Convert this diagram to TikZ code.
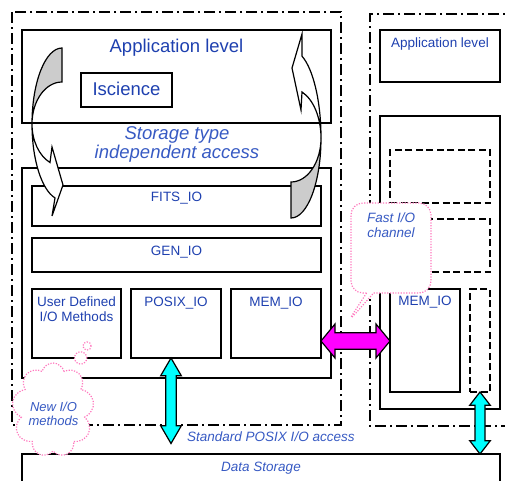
\documentclass[tikz,border=0pt]{standalone}
\usepackage{fontspec}
\setmainfont{Liberation Sans}
\usetikzlibrary{calc,shapes.callouts,shapes.symbols}
\definecolor{txtblue}{RGB}{30,64,175}
\definecolor{itblue}{RGB}{55,90,195}
\definecolor{dotpink}{RGB}{255,120,190}
\definecolor{fatcyan}{RGB}{0,255,255}
\definecolor{fatmag}{RGB}{255,0,255}
\definecolor{backshade}{RGB}{204,204,204}

% #1 from, #2 to, #3 fill, #4 shaft half width, #5 head half width, #6 head length
\newcommand\fatdbl[6]{%
  \draw[fatline, fill=#3] let \p1=(#1), \p2=(#2),
    \n1={veclen(\x2-\x1,\y2-\y1)}, \n2={atan2(\y2-\y1,\x2-\x1)} in
    [shift={(\p1)}, rotate=\n2]
    (0pt,0pt) -- (#6pt,#5pt) -- (#6pt,#4pt) -- ({\n1-#6pt},#4pt) -- ({\n1-#6pt},#5pt)
    -- ({\n1+0pt},0pt) -- ({\n1-#6pt},-#5pt) -- ({\n1-#6pt},-#4pt) -- (#6pt,-#4pt)
    -- (#6pt,-#5pt) -- cycle;}

\begin{document}
\begin{tikzpicture}[x=1pt,y=-1pt,
  boxst/.style={draw, line width=1.2pt, inner sep=0pt, outer sep=0pt},
  dboxst/.style={boxst, dash pattern=on 7pt off 3.5pt},
  framest/.style={line width=1.2pt, dash pattern=on 11pt off 4pt on 2pt off 4pt},
  bigtxt/.style={font=\fontsize{18.5}{18.4}\selectfont, text=txtblue, inner sep=0pt},
  bigit/.style={font=\fontsize{18.5}{18.4}\selectfont\itshape, text=itblue, inner sep=0pt},
  smalltxt/.style={font=\fontsize{13.5}{15}\selectfont, text=txtblue, inner sep=0pt},
  smallit/.style={font=\fontsize{13.5}{15}\selectfont\itshape, text=itblue, inner sep=0pt},
  cloudit/.style={font=\fontsize{13}{14}\selectfont\itshape, text=itblue, inner sep=0pt},
  pinkdot/.style={draw=dotpink, line width=1.2pt, dash pattern=on 1.2pt off 1.5pt, fill=white},
  fatline/.style={draw=black, line width=1.2pt, line join=miter},
  curvest/.style={draw=black, line width=1.2pt, line join=miter}]

\useasboundingbox (0,0) rectangle (505,480);
\clip (0,0) rectangle (505,480);

% dash-dot frames
\draw[framest] (12,12) rectangle (341,425);
\draw[framest] (520,14) -- (370,14) -- (370,426) -- (520,426);

% left stack
\node[boxst, minimum width=309pt, minimum height=93pt] (appL) at (176.5,76.5) {};
\node[boxst, minimum width=91pt, minimum height=34pt] (isci) at (126.5,90) {};
\node[boxst, minimum width=309pt, minimum height=210pt] (ioL) at (176.5,273) {};
\node[boxst, minimum width=289pt, minimum height=40pt] (fits) at (176.5,206) {};
\node[boxst, minimum width=289pt, minimum height=34pt] (gen) at (176.5,255) {};
\node[boxst, minimum width=89pt, minimum height=69pt] (user) at (76.5,323.5) {};
\node[boxst, minimum width=90pt, minimum height=69pt] (posix) at (176,323.5) {};
\node[boxst, minimum width=90pt, minimum height=69pt] (memL) at (276,323.5) {};

% right stack
\node[boxst, minimum width=120pt, minimum height=52pt] (appR) at (440,56) {};
\node[boxst, minimum width=120pt, minimum height=293pt] (bigR) at (440,262.5) {};
\node[dboxst, minimum width=100pt, minimum height=53pt] (dashA) at (440,176.5) {};
\node[dboxst, minimum width=100pt, minimum height=53pt] (dashB) at (440,245.5) {};
\node[boxst, minimum width=70pt, minimum height=103pt] (memR) at (425,340.5) {};
\node[dboxst, minimum width=20pt, minimum height=103pt] (dashC) at (480,340.5) {};

% data storage
\node[boxst, minimum width=478pt, minimum height=40pt] (data) at (261,474) {};

% curved arrows
\begin{scope}[shift={(62,124)}]
  \filldraw[curvest, fill=backshade] (0,-76)
    arc[start angle=90, end angle=180, x radius=30pt, y radius=76pt]
    arc[start angle=180, end angle=90, x radius=30pt, y radius=42pt] -- cycle;
  \filldraw[curvest, fill=white] (-30,0)
    arc[start angle=180, end angle=256.5, x radius=30pt, y radius=76pt]
    -- (-10,92) -- (1,61) -- (-10,23) -- (-12,38.5)
    arc[start angle=246.4, end angle=180, x radius=30pt, y radius=42pt] -- cycle;
\end{scope}
\begin{scope}[shift={(291,138)}]
  \filldraw[curvest, fill=backshade] (0,80)
    arc[start angle=270, end angle=360, x radius=30pt, y radius=80pt]
    arc[start angle=0, end angle=-90, x radius=30pt, y radius=44pt] -- cycle;
  \filldraw[curvest, fill=white] (30,0)
    arc[start angle=0, end angle=68.5, x radius=30pt, y radius=88pt]
    -- (11,-104) -- (1,-70) -- (10,-28) -- (11,-46)
    arc[start angle=68.5, end angle=0, x radius=30pt, y radius=49.5pt] -- cycle;
\end{scope}

% texts
\node[bigtxt, anchor=base] (tAppL) at (176.5,52) {Application level};
\node[bigtxt, anchor=base] (tIsci) at (126.5,95) {Iscience};
\node[bigit, align=center] (tStor) at (177,144.6) {Storage type\\independent access};
\node[smalltxt, anchor=base] (tFits) at (176.5,201.7) {FITS\_IO};
\node[smalltxt, anchor=base] (tGen) at (176.5,255) {GEN\_IO};
\node[smalltxt, align=center] (tUser) at (76.5,309.2) {User Defined\\I/O Methods};
\node[smalltxt, anchor=base] (tPosix) at (176,306.7) {POSIX\_IO};
\node[smalltxt, anchor=base] (tMemL) at (276,306.7) {MEM\_IO};
\node[smalltxt, anchor=base] (tAppR) at (440,47.3) {Application level};
\node[smalltxt, anchor=base] (tMemR) at (425,305) {MEM\_IO};
\node[smallit, anchor=base west] (tStd) at (187,441.7) {Standard POSIX I/O access};
\node[smallit, anchor=base] (tData) at (261,471) {Data Storage};

% fat double arrows
\coordinate (cyT) at ($(posix.south)+(-5,0)$);
\coordinate (cyB) at ($(cyT)+(0,85.5)$);
\fatdbl{cyT}{cyB}{fatcyan}{5.3}{10.3}{17.7}
\coordinate (cyRT) at (dashC.south);
\coordinate (cyRB) at (dashC.south |- data.north);
\fatdbl{cyRT}{cyRB}{fatcyan}{5}{10.3}{13.3}
\coordinate (mgL) at ($(memL.east)+(0,17.5)$);
\coordinate (mgR) at (memR.west |- mgL);
\fatdbl{mgL}{mgR}{fatmag}{8.3}{17}{14}

% callouts
\node[rectangle callout, pinkdot, rounded corners=12pt, minimum width=80pt, minimum height=90pt,
      callout absolute pointer={(347,323)}] (fast) at (391,248) {};
\node[smallit, align=center] (tFast) at (391,225.5) {Fast I/O\\channel};
\node[cloud callout, pinkdot, cloud puffs=9, cloud ignores aspect, minimum width=82pt,
      minimum height=94pt, inner sep=0pt, callout absolute pointer={(87,346)},
      callout pointer segments=2] (cloud) at (53,410) {};
\node[cloudit, align=center] (tCloud) at (53.5,414) {New I/O\\methods};
\end{tikzpicture}
\end{document}
